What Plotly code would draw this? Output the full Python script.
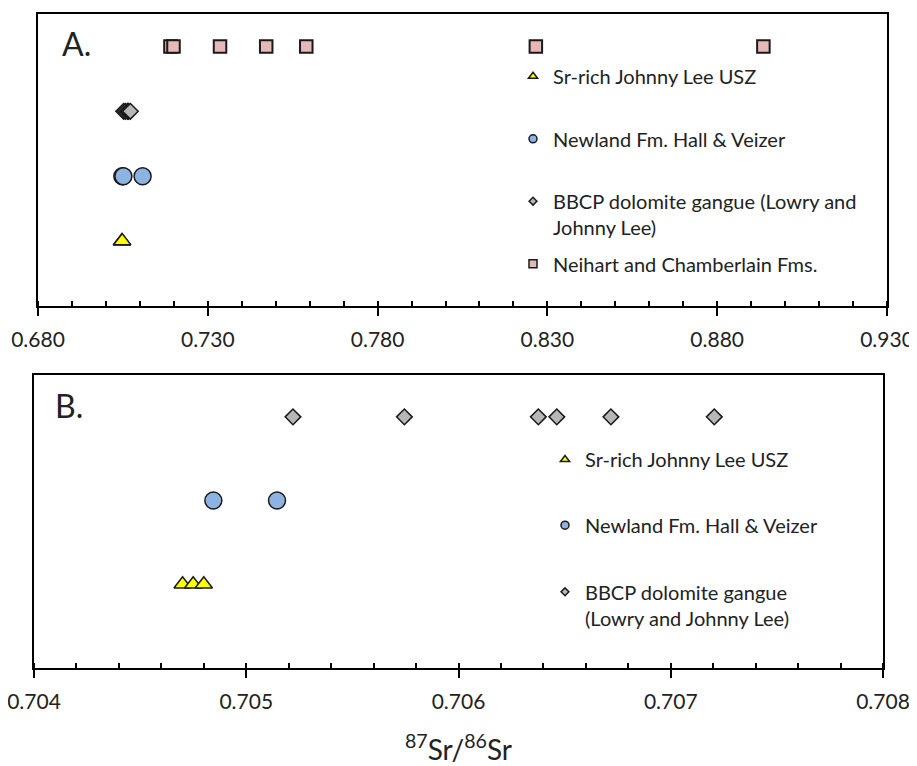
import plotly.graph_objects as go

# ---------------- data ----------------
# Panel A (full range)
a_neihart = [0.7190, 0.7199, 0.7336, 0.7472, 0.7590, 0.8266, 0.8936]
a_bbcp = [0.70522, 0.705745, 0.706376, 0.706463, 0.706718, 0.707205]
a_newland = [0.704845, 0.705145, 0.7108]
a_srrich = [0.70470, 0.70475, 0.70480]

# Panel B (zoom)
b_bbcp = [0.70522, 0.705745, 0.706376, 0.706463, 0.706718, 0.707205]
b_newland = [0.704845, 0.705145]
b_srrich = [0.70470, 0.70475, 0.70480]

# row positions (level on a hidden y axis)
row_srrich, row_newland, row_bbcp, row_neihart = 1, 2, 3, 4

a_ticks = [0.680, 0.730, 0.780, 0.830, 0.880, 0.930]
b_ticks = [0.704, 0.705, 0.706, 0.707, 0.708]

name_sr = "Sr-rich Johnny Lee USZ"
name_nw = "Newland Fm. Hall &amp; Veizer"
name_bb_a = "BBCP dolomite gangue (Lowry and<br>Johnny Lee)"
name_bb_b = "BBCP dolomite gangue<br>(Lowry and Johnny Lee)"
name_ne = "Neihart and Chamberlain Fms."

# ---------------- styles ----------------
FONT = "Lato"
TXT = "#222"
YELLOW = "#FFFF00"
BLUE = "#8DB3E2"
GREY = "#B7B7B7"
PINK = "#E6B9B8"
EDGE = dict(color="#1a1a1a", width=1.5)

# page is 917x766; the html body has an 8px default margin
OFF = 8
W, H = 917 - OFF, 766 - OFF


def px(xpage):
    return (xpage - OFF) / W


def py(ypage):
    return (H - (ypage - OFF)) / H


fig = go.Figure()


def pts(xs, row):
    return [row] * len(xs)


# ---- Panel A data traces ----
fig.add_trace(go.Scatter(x=a_srrich, y=pts(a_srrich, row_srrich), mode="markers",
                         marker=dict(symbol="triangle-up", size=15, color=YELLOW, line=EDGE),
                         showlegend=False, xaxis="x", yaxis="y"))
fig.add_trace(go.Scatter(x=a_newland, y=pts(a_newland, row_newland), mode="markers",
                         marker=dict(symbol="circle", size=17, color=BLUE, line=EDGE),
                         showlegend=False, xaxis="x", yaxis="y"))
fig.add_trace(go.Scatter(x=a_bbcp, y=pts(a_bbcp, row_bbcp), mode="markers",
                         marker=dict(symbol="diamond", size=12, color=GREY, line=EDGE),
                         showlegend=False, xaxis="x", yaxis="y"))
fig.add_trace(go.Scatter(x=a_neihart, y=pts(a_neihart, row_neihart), mode="markers",
                         marker=dict(symbol="square", size=12.5, color=PINK,
                                     line=dict(color="#1a1a1a", width=2)),
                         showlegend=False, xaxis="x", yaxis="y"))

# ---- Panel B data traces ----
fig.add_trace(go.Scatter(x=b_srrich, y=pts(b_srrich, row_srrich), mode="markers",
                         marker=dict(symbol="triangle-up", size=15, color=YELLOW, line=EDGE),
                         showlegend=False, xaxis="x2", yaxis="y2"))
fig.add_trace(go.Scatter(x=b_newland, y=pts(b_newland, row_newland), mode="markers",
                         marker=dict(symbol="circle", size=17, color=BLUE, line=EDGE),
                         showlegend=False, xaxis="x2", yaxis="y2"))
fig.add_trace(go.Scatter(x=b_bbcp, y=pts(b_bbcp, row_bbcp), mode="markers",
                         marker=dict(symbol="diamond", size=12, color=GREY, line=EDGE),
                         showlegend=False, xaxis="x2", yaxis="y2"))

# ---- legend entries (one small legend per entry, placed like the original) ----
LEG_FONT = dict(family=FONT, size=20, color=TXT)


def leg(name, symbol, color, size, legend, xa, ya):
    fig.add_trace(go.Scatter(x=[None], y=[None], mode="markers", name=name,
                             marker=dict(symbol=symbol, size=size, color=color,
                                         line=dict(color="#1a1a1a", width=1.5)),
                             legend=legend, xaxis=xa, yaxis=ya))


leg(name_sr, "triangle-up", YELLOW, 8, "legend", "x", "y")
leg(name_nw, "circle", BLUE, 8, "legend2", "x", "y")
leg(name_bb_a, "diamond", GREY, 6, "legend3", "x", "y")
leg(name_ne, "square", PINK, 8, "legend4", "x", "y")
leg(name_sr, "triangle-up", YELLOW, 8, "legend5", "x2", "y2")
leg(name_nw, "circle", BLUE, 8, "legend6", "x2", "y2")
leg(name_bb_b, "diamond", GREY, 6, "legend7", "x2", "y2")


def legbox(xtext, ycenter):
    # plotly puts the text 40px right of the legend edge, first line ~20px below its top
    return dict(x=px(xtext - 40), y=py(ycenter - 20), xanchor="left", yanchor="top",
                bgcolor="rgba(0,0,0,0)", font=LEG_FONT, valign="top",
                itemwidth=30, borderwidth=0)


# ---------------- layout ----------------
axA_dom = [px(38), px(887)]
ayA_dom = [py(306), py(14)]
axB_dom = [px(34), px(883)]
ayB_dom = [py(668), py(375)]

tickfont = dict(family=FONT, size=21, color=TXT)

common_x = dict(showline=True, linewidth=2, linecolor="black", mirror=True,
                showgrid=False, zeroline=False, ticks="outside", ticklen=8,
                tickwidth=2, tickcolor="black", tickfont=tickfont, automargin=False,
                ticklabelstandoff=6, ticklabeloverflow="allow")
common_y = dict(showline=True, linewidth=2, linecolor="black", mirror=True,
                showticklabels=False, ticks="", showgrid=False, zeroline=False,
                automargin=False)

fig.update_layout(
    width=W, height=H,
    margin=dict(l=0, r=0, t=0, b=0, autoexpand=False),
    paper_bgcolor="white", plot_bgcolor="white",
    font=dict(family=FONT, size=17, color=TXT),
    xaxis=dict(domain=axA_dom, anchor="y", range=[0.680, 0.930],
               tickvals=a_ticks, ticktext=[f"{v:.3f}" for v in a_ticks],
               minor=dict(dtick=0.01, ticks="inside", ticklen=5, tickwidth=1.5, tickcolor="black"),
               **common_x),
    yaxis=dict(domain=ayA_dom, anchor="x", range=[0, 4.5], **common_y),
    xaxis2=dict(domain=axB_dom, anchor="y2", range=[0.704, 0.708],
                tickvals=b_ticks, ticktext=[f"{v:.3f}" for v in b_ticks],
                minor=dict(dtick=0.0002, ticks="inside", ticklen=5, tickwidth=1.5, tickcolor="black"),
                title=dict(text="<sup>87</sup>Sr/<sup>86</sup>Sr",
                           font=dict(family=FONT, size=28, color=TXT), standoff=45),
                **common_x),
    yaxis2=dict(domain=ayB_dom, anchor="x2", range=[0, 3.5], **common_y),
    # overlay axes: inside half of the major ticks
    xaxis3=dict(overlaying="x", anchor="y", range=[0.680, 0.930], tickvals=a_ticks,
                ticks="inside", ticklen=5, tickwidth=2, tickcolor="black",
                showticklabels=False, showgrid=False, zeroline=False, showline=False,
                side="bottom", automargin=False),
    xaxis4=dict(overlaying="x2", anchor="y2", range=[0.704, 0.708], tickvals=b_ticks,
                ticks="inside", ticklen=5, tickwidth=2, tickcolor="black",
                showticklabels=False, showgrid=False, zeroline=False, showline=False,
                side="bottom", automargin=False),
    legend=legbox(553, 76.7),
    legend2=legbox(553, 139.3),
    legend3=legbox(553, 201.7),
    legend4=legbox(553, 264.3),
    legend5=legbox(585, 460),
    legend6=legbox(585, 525.7),
    legend7=legbox(585, 592.3),
    annotations=[
        dict(text="A.", x=px(60), y=py(43), xref="paper", yref="paper",
             xanchor="left", yanchor="middle", showarrow=False,
             font=dict(family=FONT, size=32, color=TXT)),
        dict(text="B.", x=px(53), y=py(405), xref="paper", yref="paper",
             xanchor="left", yanchor="middle", showarrow=False,
             font=dict(family=FONT, size=32, color=TXT)),
    ],
)

# invisible helper traces so the overlay tick axes render
fig.add_trace(go.Scatter(x=[None], y=[None], xaxis="x3", yaxis="y", showlegend=False))
fig.add_trace(go.Scatter(x=[None], y=[None], xaxis="x4", yaxis="y2", showlegend=False))

fig.write_html("out.html")
